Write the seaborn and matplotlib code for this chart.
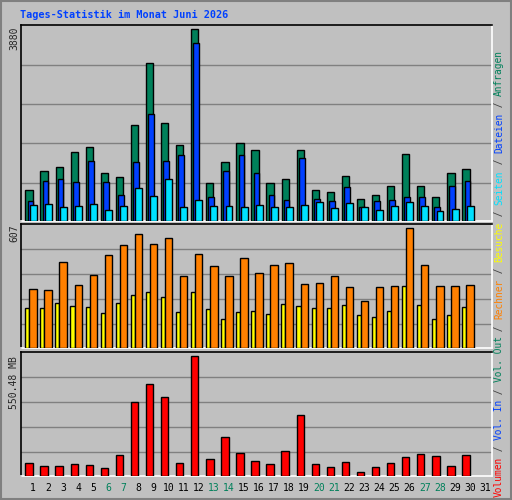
import numpy as np
import pandas as pd
import seaborn as sns
import matplotlib
matplotlib.use("Agg")
import matplotlib.pyplot as plt

days = list(range(1, 31))
day_labels = [str(d) for d in range(1, 32)]
weekend = {6, 7, 13, 14, 20, 21, 27, 28}

hits = [621, 1005, 1086, 1390, 1491, 965, 884, 1937, 3192, 1977, 1532, 3880, 763, 1188, 1572,
        1431, 763, 844, 1431, 621, 580, 904, 439, 520, 702, 1350, 702, 479, 965, 1046]
files = [398, 803, 844, 783, 1208, 783, 520, 1188, 2159, 1208, 1329, 3597, 479, 1005, 1329,
         965, 520, 418, 1269, 439, 398, 682, 277, 398, 418, 479, 479, 277, 702, 803]
pages = [317, 337, 277, 297, 337, 216, 297, 661, 499, 844, 277, 418, 297, 297, 277,
         317, 277, 277, 317, 378, 256, 358, 277, 216, 297, 378, 297, 196, 236, 297]
visits = [298, 293, 435, 319, 369, 470, 521, 577, 526, 556, 364, 475, 415, 364, 455,
          379, 420, 430, 324, 329, 364, 309, 238, 309, 314, 607, 420, 314, 314, 319]
sites = [202, 202, 228, 212, 207, 177, 228, 268, 283, 258, 182, 283, 197, 147, 182,
         187, 172, 223, 212, 202, 202, 217, 167, 157, 187, 314, 217, 147, 167, 207]
volume_mb = [56.9, 43.1, 43.1, 52.3, 47.7, 33.8, 93.8, 338.3, 421.3, 361.4, 56.9, 550.48, 75.3, 176.8, 103,
             66.1, 52.3, 112.3, 278.3, 52.3, 38.4, 61.5, 15.4, 38.4, 56.9, 84.6, 98.4, 89.2, 43.1, 93.8]

sns.set_style("white")
BG = "#C0C0C0"
fig = plt.figure(figsize=(5.12, 5.0), dpi=100, facecolor=BG)
fig.patches.append(plt.Rectangle((0.002, 0.002), 0.996, 0.996, transform=fig.transFigure,
                                 fill=False, edgecolor="#808080", lw=1.5))
L, W = 20.5 / 512, 471 / 512
ax1 = fig.add_axes([L, 0.558, W, 0.392])
ax2 = fig.add_axes([L, 0.3034, W, 0.2486])
ax3 = fig.add_axes([L, 0.0486, W, 0.2468])

d = np.array(days, dtype=float)

def bars(ax, vals, off, width, color):
    ax.bar(d + off, vals, width=width, color=color, edgecolor="black", linewidth=1, zorder=3)

for ax, ymax in [(ax1, 3967), (ax2, 628.8), (ax3, 569)]:
    ax.set_facecolor(BG)
    ax.set_xlim(0.17, 31.43)
    ax.set_ylim(0, ymax)
    for f in [0.195, 0.397, 0.597, 0.797]:
        ax.axhline(f * ymax, color="#808080", lw=1, zorder=1)
    ax.set_xticks([]); ax.set_yticks([])
    for s in ["left", "top"]:
        ax.spines[s].set_color("black")
    for s in ["right", "bottom"]:
        ax.spines[s].set_color("white")
    for s in ax.spines.values():
        s.set_linewidth(1.2)

bars(ax1, hits, -0.265, 0.48, "#00805A")
bars(ax1, files, -0.17, 0.38, "#0040FF")
bars(ax1, pages, 0.01, 0.46, "#00E0FF")
bars(ax2, sites, -0.38, 0.27, "#FFFF00")
bars(ax2, visits, 0.0, 0.49, "#FF8000")
sns.barplot(x=d - 0.265, y=volume_mb, native_scale=True, width=0.49, color="#FF0000",
            saturation=1, edgecolor="black", linewidth=1, ax=ax3, zorder=3)
ax3.set_xlim(0.17, 31.43); ax3.set_xticks([]); ax3.set_yticks([])
ax3.set_xlabel(""); ax3.set_ylabel("")

mono = "DejaVu Sans Mono"
fig.text(20 / 512, 1 - 15 / 500, "Tages-Statistik im Monat Juni 2026", color="#0040FF",
         family=mono, weight="bold", fontsize=7.3, va="center", ha="left")

# day labels
for i, lab in enumerate(day_labels):
    x = (33 + i * 15.067) / 512
    col = "#00805A" if (i + 1) in weekend else "black"
    fig.text(x, 1 - 488 / 500, lab, color=col, family=mono, fontsize=7, ha="center", va="center")

# left max labels
fig.text(14 / 512, 1 - 27 / 500, "3880", rotation=90, family=mono, fontsize=7, ha="center", va="top")
fig.text(14 / 512, 1 - 224 / 500, "607", rotation=90, family=mono, fontsize=7, ha="center", va="top")
fig.text(14 / 512, 1 - 356 / 500, "550.48 MB", rotation=90, family=mono, fontsize=7, ha="center", va="top")

# right legend
pieces = [("Volumen", "#FF0000"), (" / ", "#404040"), ("Vol. In", "#0040FF"), (" / ", "#404040"),
          ("Vol. Out", "#00805A"), (" / ", "#404040"), ("Rechner", "#FF8000"), (" / ", "#404040"),
          ("Besuche", "#FFFF00"), (" / ", "#404040"), ("Seiten", "#00E0FF"), (" / ", "#404040"),
          ("Dateien", "#0040FF"), (" / ", "#404040"), ("Anfragen", "#00805A")]
pos = 0
step = 5.73
for txt, col in pieces:
    y = 497 - pos * step
    fig.text(499 / 512, 1 - y / 500, txt, color=col, family=mono, fontsize=6.85, rotation=90,
             ha="center", va="bottom")
    pos += len(txt)

fig.savefig("out.png", dpi=100, facecolor=BG)
